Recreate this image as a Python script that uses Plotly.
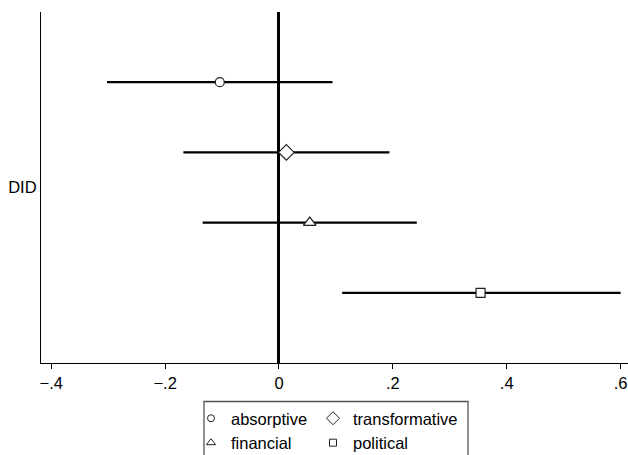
import plotly.graph_objects as go

# ---- data ----
categories = ["DID"]
series_names = ["absorptive", "transformative", "financial", "political"]
estimates = [-0.104, 0.013, 0.054, 0.354]
ci_low = [-0.302, -0.168, -0.134, 0.111]
ci_high = [0.094, 0.194, 0.242, 0.600]
x_tick_vals = [-0.4, -0.2, 0, 0.2, 0.4, 0.6]
x_tick_text = ["\u2212.4", "\u2212.2", "0", ".2", ".4", ".6"]

# ---- styles ----
symbols = ["circle", "diamond", "triangle-up", "square"]
plot_sizes = [9, 12, 11, 9]
legend_sizes = [7, 10, 8, 7]
legend_ids = ["legend", "legend2", "legend", "legend2"]
FONT = "Liberation Sans, Arial, sans-serif"
FS = 16.5

W, H = 628, 455
ML, MR, MT, MB = 41, 0, 12, 92
PW, PH = W - ML - MR, H - MT - MB

def px_to_paper_x(px):
    return (px - ML) / PW

def px_to_paper_y(py):
    return (H - MB - py) / PH

n = len(series_names)
offsets = [(i - (n - 1) / 2) * 0.2 for i in range(n)]

fig = go.Figure()
for i, name in enumerate(series_names):
    y = [1 + offsets[i]]
    fig.add_trace(go.Scatter(
        x=[estimates[i]], y=y, mode="markers", name=name, showlegend=False,
        marker=dict(symbol=symbols[i], size=plot_sizes[i], color="white",
                    line=dict(color="#222", width=1.2)),
        error_x=dict(type="data", symmetric=False,
                     array=[ci_high[i] - estimates[i]],
                     arrayminus=[estimates[i] - ci_low[i]],
                     color="black", thickness=2.3, width=0),
    ))
# legend entries (smaller symbols as in the reference)
for i, name in enumerate(series_names):
    fig.add_trace(go.Scatter(
        x=[None], y=[None], mode="markers", name=name, legend=legend_ids[i],
        marker=dict(symbol=symbols[i], size=legend_sizes[i], color="white",
                    line=dict(color="#222", width=1)),
    ))

legend_common = dict(xref="container", yref="container", xanchor="left", yanchor="top",
                     orientation="v", bgcolor="rgba(0,0,0,0)", borderwidth=0,
                     font=dict(size=FS), itemwidth=30, tracegroupgap=0)

fig.update_layout(
    width=W, height=H,
    margin=dict(l=ML, r=MR, t=MT, b=MB, pad=0, autoexpand=False),
    paper_bgcolor="white", plot_bgcolor="white",
    font=dict(family=FONT, size=FS, color="black"),
    xaxis=dict(range=[-0.418, 0.613], tickvals=x_tick_vals, ticktext=x_tick_text,
               showgrid=False, zeroline=True, zerolinecolor="black", zerolinewidth=2.6,
               showline=True, linecolor="black", linewidth=1.3,
               ticks="outside", ticklen=5, tickwidth=1.3, tickcolor="black",
               tickfont=dict(size=FS), automargin=False, ticklabeloverflow="allow"),
    yaxis=dict(range=[1.5, 0.5], tickvals=[1], ticktext=categories,
               showgrid=False, zeroline=False,
               showline=True, linecolor="black", linewidth=1.3,
               ticks="", tickfont=dict(size=FS), automargin=False,
               ticklabeloverflow="allow"),
    legend=dict(x=191 / W, y=1 - 401 / H, **legend_common),
    legend2=dict(x=313 / W, y=1 - 401 / H, **legend_common),
    shapes=[dict(type="rect", xref="paper", yref="paper",
                 x0=px_to_paper_x(204), x1=px_to_paper_x(468),
                 y0=px_to_paper_y(401.5), y1=px_to_paper_y(475),
                 line=dict(color="#555", width=1.3), fillcolor="rgba(0,0,0,0)")],
)

fig.write_html("out.html", config={"displayModeBar": False},
               post_script="document.body.style.margin='0';document.body.style.overflow='hidden';")
